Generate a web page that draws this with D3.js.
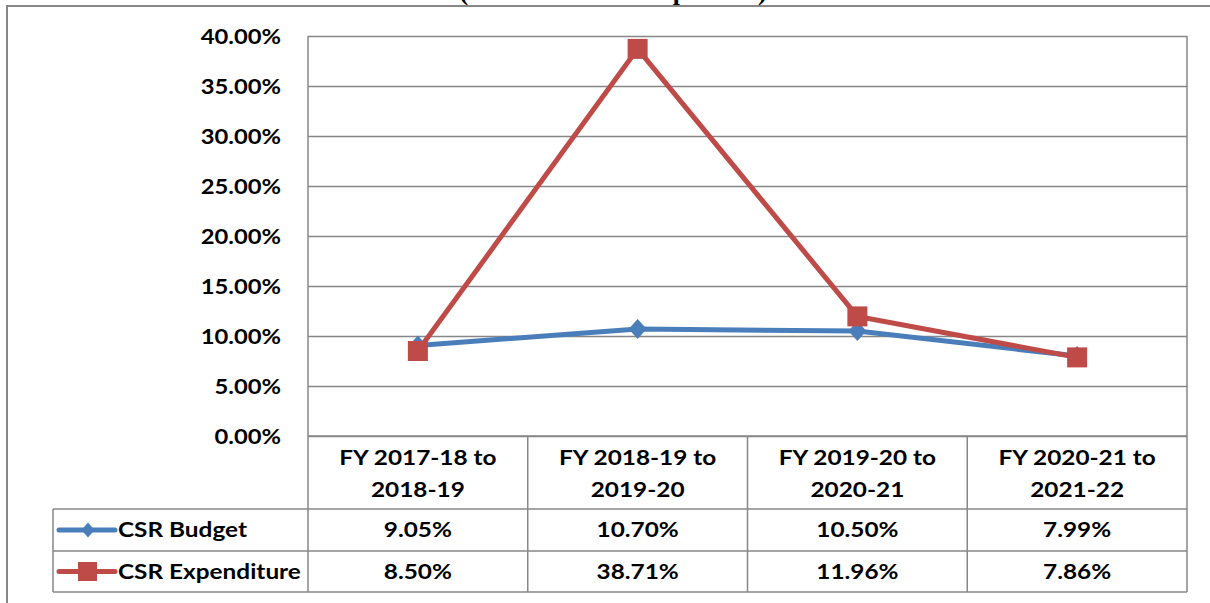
<!DOCTYPE html>
<html>
<head>
<meta charset="utf-8">
<script src="https://cdn.jsdelivr.net/npm/d3@7"></script>
<style>
  body { margin: 0; background: #fff; }
  svg text { font-family: Lato, "Open Sans", sans-serif; font-weight: bold; fill: #000; }
</style>
</head>
<body>
<svg id="chart" width="1210" height="603"></svg>
<script>
// chart values (growth rates)
const categories = ['FY 2017-18 to 2018-19', 'FY 2018-19 to 2019-20', 'FY 2019-20 to 2020-21', 'FY 2020-21 to 2021-22'];
const catLines = [['FY 2017-18 to', '2018-19'], ['FY 2018-19 to', '2019-20'], ['FY 2019-20 to', '2020-21'], ['FY 2020-21 to', '2021-22']];
const budget = [0.0905, 0.1070, 0.1050, 0.0799];
const expenditure = [0.0850, 0.3871, 0.1196, 0.0786];
const yTicks = [0, 0.05, 0.10, 0.15, 0.20, 0.25, 0.30, 0.35, 0.40];
const seriesNames = ['CSR Budget', 'CSR Expenditure'];

const gridCol = '#878787';
const blue = '#4A7EBB';
const red = '#BE4B48';

const svg = d3.select('#chart');

const plotLeft = 308, plotRight = 1187, plotTop = 36, plotBottom = 436;
const rowY = [509, 551, 592];
const legendLeft = 53;
const stretch = 1.16; // text in the original is a bit wide

const x = d3.scaleBand().domain(categories).range([plotLeft, plotRight]);
const y = d3.scaleLinear().domain([0, 0.4]).range([plotBottom, plotTop]);

// put a horizontally stretched text at (tx, ty)
function wideText(g, tx, ty, str, anchor, size) {
    return g.append('text')
        .attr('transform', `translate(${tx},${ty}) scale(${stretch},1)`)
        .attr('text-anchor', anchor)
        .style('font-size', size + 'px')
        .text(str);
}

// outer frame
svg.append('path')
    .attr('d', 'M7,603V6H1210')
    .attr('fill', 'none')
    .attr('stroke', gridCol)
    .attr('stroke-width', 2);

// cut-off source note at the top
svg.append('text')
    .attr('x', 613)
    .attr('y', 0)
    .attr('text-anchor', 'middle')
    .style('font-family', '"Liberation Serif", serif')
    .style('font-size', '26px')
    .text('(Source: Own Compilation)');

// y axis with gridlines
const yAxis = d3.axisLeft(y)
    .tickValues(yTicks)
    .tickFormat(d3.format('.2%'))
    .tickSize(-(plotRight - plotLeft))
    .tickPadding(27);

const gy = svg.append('g')
    .attr('transform', `translate(${plotLeft},0)`)
    .call(yAxis);

gy.select('.domain').remove();
gy.selectAll('.tick line')
    .attr('stroke', gridCol)
    .attr('stroke-width', 1.5);
gy.selectAll('.tick text')
    .attr('x', null)
    .attr('transform', `translate(-27,0) scale(1.19,1)`)
    .style('font-size', '20px')
    .attr('dy', '0.36em');

// data table grid
const grid = svg.append('g')
    .attr('stroke', gridCol)
    .attr('stroke-width', 1.5)
    .attr('fill', 'none');

// vertical lines: axis, column dividers, right edge
const vx = [plotLeft].concat(categories.map(c => x(c) + x.bandwidth()));
grid.selectAll('line.v')
    .data(vx)
    .enter()
    .append('line')
    .attr('x1', d => d).attr('x2', d => d)
    .attr('y1', (d, i) => (i === 0 || i === vx.length - 1) ? plotTop : plotBottom)
    .attr('y2', rowY[2]);

grid.append('line')
    .attr('x1', legendLeft).attr('x2', legendLeft)
    .attr('y1', rowY[0]).attr('y2', rowY[2]);

grid.append('line')
    .attr('x1', plotLeft).attr('x2', plotRight)
    .attr('y1', plotBottom).attr('y2', plotBottom);

grid.selectAll('line.h')
    .data(rowY)
    .enter()
    .append('line')
    .attr('x1', legendLeft).attr('x2', plotRight)
    .attr('y1', d => d).attr('y2', d => d);

// category headers
const hdr = svg.append('g');
categories.forEach((c, i) => {
    catLines[i].forEach((t, j) => {
        wideText(hdr, x(c) + x.bandwidth() / 2, 465 + j * 32, t, 'middle', 21);
    });
});

// value rows
const fmt = d3.format('.2%');
[budget, expenditure].forEach((vals, r) => {
    const g = svg.append('g');
    vals.forEach((d, i) => {
        wideText(g, x(categories[i]) + x.bandwidth() / 2, rowY[r] + 28, fmt(d), 'middle', 21);
    });
});

// lines
const line = d3.line()
    .x((d, i) => x(categories[i]) + x.bandwidth() / 2)
    .y(d => y(d));

svg.append('path')
    .datum(budget)
    .attr('d', line)
    .attr('fill', 'none')
    .attr('stroke', blue)
    .attr('stroke-width', 5);

svg.append('path')
    .datum(expenditure)
    .attr('d', line)
    .attr('fill', 'none')
    .attr('stroke', red)
    .attr('stroke-width', 5);

// markers
const diamond = (w, h) => `M0,${-h / 2}L${w / 2},0L0,${h / 2}L${-w / 2},0Z`;

svg.append('g')
    .selectAll('path')
    .data(budget)
    .enter()
    .append('path')
    .attr('transform', (d, i) => `translate(${x(categories[i]) + x.bandwidth() / 2},${y(d)})`)
    .attr('d', diamond(18, 20))
    .attr('fill', blue);

svg.append('g')
    .selectAll('rect')
    .data(expenditure)
    .enter()
    .append('rect')
    .attr('x', (d, i) => x(categories[i]) + x.bandwidth() / 2 - 10)
    .attr('y', d => y(d) - 10)
    .attr('width', 20)
    .attr('height', 20)
    .attr('fill', red);

// legend keys inside the table
const keys = svg.append('g');
seriesNames.forEach((name, r) => {
    const cy = (rowY[r] + rowY[r + 1]) / 2;
    const col = r === 0 ? blue : red;
    keys.append('line')
        .attr('x1', 59).attr('x2', 115)
        .attr('y1', cy).attr('y2', cy)
        .attr('stroke', col)
        .attr('stroke-width', 5)
        .attr('stroke-linecap', 'round');
    if (r === 0) {
        keys.append('path')
            .attr('transform', `translate(88,${cy})`)
            .attr('d', diamond(13, 15))
            .attr('fill', col);
    } else {
        keys.append('rect')
            .attr('x', 78).attr('y', cy - 9.5)
            .attr('width', 19).attr('height', 19)
            .attr('fill', col);
    }
    wideText(keys, 118, rowY[r] + 28, name, 'start', 21);
});
</script>
</body>
</html>
